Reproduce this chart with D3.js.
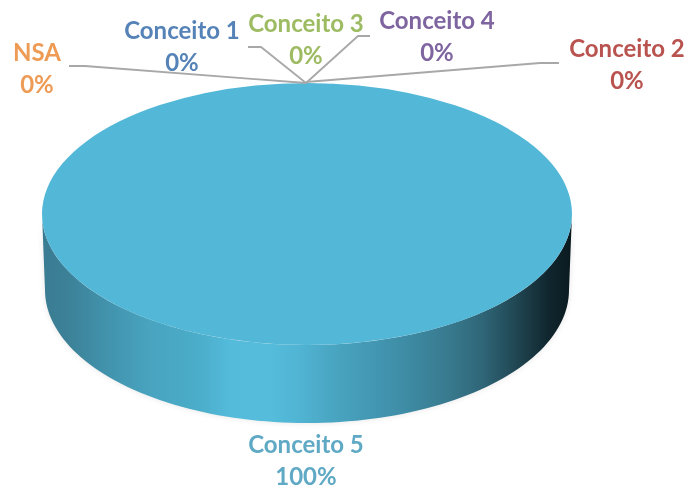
<!DOCTYPE html>
<html><head><meta charset="utf-8">
<script src="https://cdnjs.cloudflare.com/ajax/libs/d3/7.8.5/d3.min.js"></script>
<style>html,body{margin:0;padding:0;background:#fff}svg{display:block}text{font-family:Lato,"Open Sans",sans-serif;font-weight:700;font-size:24px;text-anchor:middle}</style>
</head><body><svg id="c" width="690" height="491"></svg>
<script>
const categories = ["NSA","Conceito 1","Conceito 2","Conceito 3","Conceito 4","Conceito 5"];
const values = [0,0,0,0,0,100];
const percentLabels = ["0%","0%","0%","0%","0%","100%"];
const colors = ["#F79646","#4F81BD","#C0504D","#9BBB59","#8064A2","#4BACC6"];
const textColors = ["#ee9b55","#5583b8","#b9534f","#9dbb62","#7e65a0","#5fa9c5"];
const labelX = [37,182,627,306,437,306];
const labelY = [53,31,49,24,21,445];
const leaders = [
  [[69,66],[85,66],[306,83]],
  [[248,47],[261,47],[306,83]],
  [[559,63],[540,63],[306,82]],
  [[307,83],[307,83]],
  [[370,36],[358,36],[306,83]]
];
const gradStops = [[0,"#3a7c92"],[0.05,"#3c8198"],[0.11,"#4190a9"],[0.2,"#48a3bf"],[0.3,"#4baeca"],[0.355,"#54bbdb"],[0.43,"#55bcdc"],[0.49,"#50b3d2"],[0.56,"#48a3bf"],[0.675,"#3f8ea8"],[0.77,"#38798d"],[0.83,"#2f6678"],[0.9,"#1f4450"],[0.955,"#10262e"],[1,"#0a1a1f"]];

const W=690,H=491, cx=307, cy=214, rx=265, ry=131;
const cxB=307, cyB=290, rxB=262, ryB=133;
const svg=d3.select("#c");
const defs=svg.append("defs");
const g=defs.append("linearGradient").attr("id","side");
g.selectAll("stop").data(gradStops).join("stop").attr("offset",d=>d[0]).attr("stop-color",d=>d[1]);
defs.append("filter").attr("id","soft").attr("x","-5%").attr("y","-5%").attr("width","110%").attr("height","115%")
  .append("feGaussianBlur").attr("stdDeviation",3);
defs.append("filter").attr("id","b").append("feGaussianBlur").attr("stdDeviation",0.4);

const pie=d3.pie().sort(null).value(d=>d)(values);
const angle=d3.scaleLinear().domain([0,1]).range([Math.PI/2,Math.PI*1.5]);
const ts=d3.range(0,1.0001,0.01);
const lower=t=>[cxB+rxB*Math.sin(angle(t)),cyB-ryB*Math.cos(angle(t))];
const upper=t=>[cx+rx*Math.sin(angle(t)),cy-ry*Math.cos(angle(t))];
const sidePath=d3.line()(ts.map(lower).concat(ts.slice().reverse().map(upper)))+"Z";
svg.append("path").attr("d",sidePath).attr("fill","#000").attr("opacity",0.1).attr("filter","url(#soft)");
svg.append("path").attr("d",sidePath).attr("fill","url(#side)");

const arc=d3.arc().innerRadius(0).outerRadius(rx);
svg.append("g").attr("transform",`translate(${cx},${cy}) scale(1,${ry/rx})`)
  .selectAll("path").data(pie).join("path").attr("d",arc).attr("fill","#53b7d8");

const line=d3.line();
svg.append("g").selectAll("path").data(leaders).join("path")
  .attr("d",line).attr("fill","none").attr("stroke","#a8a8a8").attr("stroke-width",1.8).attr("filter","url(#b)");

const lab=svg.append("g").attr("filter","url(#b)").selectAll("g").data(categories).join("g");
lab.append("text").attr("x",(d,i)=>labelX[i]).attr("y",(d,i)=>labelY[i]+8).attr("fill",(d,i)=>textColors[i]).text(d=>d);
lab.append("text").attr("x",(d,i)=>labelX[i]).attr("y",(d,i)=>labelY[i]+40).attr("fill",(d,i)=>textColors[i]).text((d,i)=>percentLabels[i]);
</script></body></html>
